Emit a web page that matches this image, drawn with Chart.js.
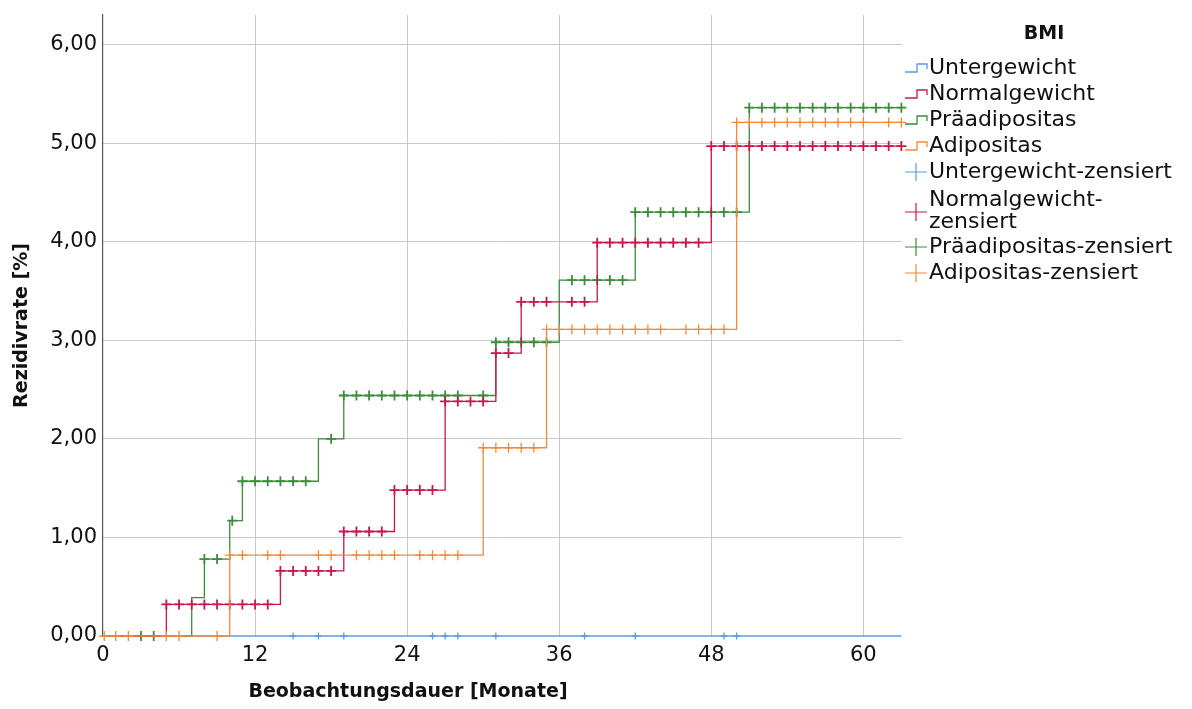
<!DOCTYPE html>
<html>
<head>
<meta charset="utf-8">
<script src="https://cdn.jsdelivr.net/npm/chart.js@4.4.1/dist/chart.umd.min.js"></script>
<style>
  html, body { margin: 0; padding: 0; background: #fff; }
  #wrap { width: 1192px; height: 709px; position: relative; }
</style>
</head>
<body>
<div id="wrap"><canvas id="km"></canvas></div>
<script>
// ---------------- data ----------------
const xTicks = [0, 12, 24, 36, 48, 60];
const yTicks = [0, 1, 2, 3, 4, 5, 6];

// step curves: time (months) where the value changes, and cumulative rate [%]
const unterZeit = [0, 63];
const unterRate = [0, 0];
const normalZeit = [0, 5, 14, 19, 23, 27, 31, 33, 39, 48, 63];
const normalRate = [0, 0.32, 0.66, 1.06, 1.48, 2.38, 2.87, 3.39, 3.99, 4.97, 4.97];
const praeZeit = [0, 7, 8, 10, 11, 17, 19, 31, 36, 42, 51, 63];
const praeRate = [0, 0.39, 0.78, 1.17, 1.57, 2.00, 2.44, 2.98, 3.61, 4.30, 5.36, 5.36];
const adiZeit = [0, 10, 30, 35, 50, 63];
const adiRate = [0, 0.82, 1.91, 3.11, 5.21, 5.21];

// censored cases
const unterZensZeit = [15, 17, 19, 26, 27, 28, 31, 38, 42, 49, 50];
const unterZensRate = [0, 0, 0, 0, 0, 0, 0, 0, 0, 0, 0];
const normalZensZeit = [5, 6, 7, 8, 9, 10, 11, 12, 13,
  14, 15, 16, 17, 18,
  19, 20, 21, 22,
  23, 24, 25, 26,
  27, 28, 29, 30,
  31, 32,
  33, 34, 35, 37, 38,
  39, 40, 41, 42, 43, 44, 45, 46, 47,
  48, 49, 50, 51, 52, 53, 54, 55, 56, 57, 58, 59, 60, 61, 62, 63];
const normalZensRate = [0.32, 0.32, 0.32, 0.32, 0.32, 0.32, 0.32, 0.32, 0.32,
  0.66, 0.66, 0.66, 0.66, 0.66,
  1.06, 1.06, 1.06, 1.06,
  1.48, 1.48, 1.48, 1.48,
  2.38, 2.38, 2.38, 2.38,
  2.87, 2.87,
  3.39, 3.39, 3.39, 3.39, 3.39,
  3.99, 3.99, 3.99, 3.99, 3.99, 3.99, 3.99, 3.99, 3.99,
  4.97, 4.97, 4.97, 4.97, 4.97, 4.97, 4.97, 4.97, 4.97, 4.97, 4.97, 4.97, 4.97, 4.97, 4.97, 4.97];
const praeZensZeit = [3, 4,
  8, 9,
  10.2,
  11, 12, 13, 14, 15, 16,
  18,
  19, 20, 21, 22, 23, 24, 25, 26, 27, 28, 30,
  31, 32, 33, 34, 35,
  37, 38, 39, 40, 41,
  42, 43, 44, 45, 46, 47, 48, 49, 50,
  51, 52, 53, 54, 55, 56, 57, 58, 59, 60, 61, 62, 63];
const praeZensRate = [0, 0,
  0.78, 0.78,
  1.17,
  1.57, 1.57, 1.57, 1.57, 1.57, 1.57,
  2.00,
  2.44, 2.44, 2.44, 2.44, 2.44, 2.44, 2.44, 2.44, 2.44, 2.44, 2.44,
  2.98, 2.98, 2.98, 2.98, 2.98,
  3.61, 3.61, 3.61, 3.61, 3.61,
  4.30, 4.30, 4.30, 4.30, 4.30, 4.30, 4.30, 4.30, 4.30,
  5.36, 5.36, 5.36, 5.36, 5.36, 5.36, 5.36, 5.36, 5.36, 5.36, 5.36, 5.36, 5.36];
const adiZensZeit = [0.1, 1, 2, 5, 6, 9,
  10, 11, 13, 14, 17, 18, 20, 21, 22, 23, 25, 26, 27, 28,
  30, 31, 32, 33, 34,
  35, 36, 37, 38, 39, 40, 41, 42, 43, 44, 46, 47, 48, 49,
  50, 51, 52, 53, 54, 55, 56, 57, 58, 59, 60, 62, 63];
const adiZensRate = [0, 0, 0, 0, 0, 0,
  0.82, 0.82, 0.82, 0.82, 0.82, 0.82, 0.82, 0.82, 0.82, 0.82, 0.82, 0.82, 0.82, 0.82,
  1.91, 1.91, 1.91, 1.91, 1.91,
  3.11, 3.11, 3.11, 3.11, 3.11, 3.11, 3.11, 3.11, 3.11, 3.11, 3.11, 3.11, 3.11, 3.11,
  5.21, 5.21, 5.21, 5.21, 5.21, 5.21, 5.21, 5.21, 5.21, 5.21, 5.21, 5.21, 5.21];

const gruppen = ['Untergewicht', 'Normalgewicht', 'Präadipositas', 'Adipositas'];
const farben = ['#5b9be0', '#c8174f', '#3b8c3b', '#f28a3c'];

// ---------------- build datasets ----------------
function pts(zeit, rate) {
  return zeit.map((t, i) => ({ x: t, y: rate[i] }));
}

const kurven = [
  [unterZeit, unterRate, unterZensZeit, unterZensRate, 3],
  [normalZeit, normalRate, normalZensZeit, normalZensRate, 1],
  [praeZeit, praeRate, praeZensZeit, praeZensRate, 2],
  [adiZeit, adiRate, adiZensZeit, adiZensRate, 0]
];

let dataSets = [];
for (let i = 0; i < kurven.length; i++) {
  const k = kurven[i];
  dataSets.push({
    label: gruppen[i],
    data: pts(k[0], k[1]),
    stepped: true,
    borderColor: farben[i],
    borderWidth: i === 0 ? 1.6 : 1.3,
    pointRadius: 0,
    fill: false,
    clip: false,
    order: k[4] * 2 + 1
  });
  dataSets.push({
    label: gruppen[i] + '-zensiert',
    data: pts(k[2], k[3]),
    showLine: false,
    pointStyle: 'cross',
    pointRadius: i === 0 ? 3.5 : 5,
    borderColor: farben[i],
    borderWidth: i === 1 || i === 2 ? 1.8 : 1.3,
    clip: false,
    order: k[4] * 2
  });
}

const FONT = '"DejaVu Sans", "Noto Sans", sans-serif';

// legend + x title drawn on canvas
const bmiLegend = {
  id: 'bmiLegend',
  afterDraw(chart) {
    const ctx = chart.ctx;
    ctx.save();
    ctx.fillStyle = '#111';
    ctx.textBaseline = 'middle';

    // x axis title
    ctx.font = 'bold 19px ' + FONT;
    ctx.textAlign = 'center';
    ctx.fillText('Beobachtungsdauer [Monate]', 408, 692);

    // legend title
    ctx.fillText('BMI', 1044, 34);

    ctx.font = '22px ' + FONT;
    ctx.textAlign = 'left';
    const x0 = 905, tx = 929;
    const stepRows = [68, 94, 120, 146];
    for (let i = 0; i < 4; i++) {
      const y = stepRows[i];
      ctx.strokeStyle = farben[i];
      ctx.lineWidth = 1.3;
      ctx.beginPath();
      ctx.moveTo(x0, y + 4);
      ctx.lineTo(x0 + 12, y + 4);
      ctx.lineTo(x0 + 12, y - 4);
      ctx.lineTo(x0 + 22, y - 4);
      ctx.lineTo(x0 + 22, y + 1);
      ctx.stroke();
      ctx.fillText(gruppen[i], tx, y);
    }
    const crossRows = [172, 212, 247, 273];
    for (let i = 0; i < 4; i++) {
      const y = crossRows[i];
      ctx.strokeStyle = farben[i];
      ctx.lineWidth = 1.2;
      ctx.beginPath();
      ctx.moveTo(x0, y);
      ctx.lineTo(x0 + 22, y);
      ctx.moveTo(x0 + 11, y - 9);
      ctx.lineTo(x0 + 11, y + 9);
      ctx.stroke();
      if (i === 1) {
        ctx.fillText(gruppen[i] + '-', tx, y - 12);
        ctx.fillText('zensiert', tx, y + 10);
      } else {
        ctx.fillText(gruppen[i] + '-zensiert', tx, y);
      }
    }
    ctx.restore();
  }
};

const config = {
  type: 'line',
  data: { datasets: dataSets },
  options: {
    responsive: true,
    maintainAspectRatio: false,
    animation: false,
    layout: { padding: { top: 15, right: 290, left: 0, bottom: 0 } },
    plugins: { legend: { display: false }, tooltip: { enabled: false } },
    scales: {
      x: {
        type: 'linear',
        min: 0,
        max: 63.05,
        afterBuildTicks: s => { s.ticks = xTicks.map(v => ({ value: v })); },
        afterFit: s => { s.height = 73; s.paddingLeft = 0; s.paddingRight = 0; },
        grid: {
          color: ctx => ctx.tick && ctx.tick.value === 0 ? 'rgba(0,0,0,0)' : '#c9c9c9',
          lineWidth: 1,
          drawTicks: false
        },
        border: { display: false },
        ticks: {
          padding: 7,
          color: '#111',
          font: { family: FONT, size: 21 },
          maxRotation: 0
        }
      },
      y: {
        type: 'linear',
        min: 0,
        max: 6.3,
        afterBuildTicks: s => { s.ticks = yTicks.map(v => ({ value: v })); },
        afterFit: s => { s.width = 103; s.paddingTop = 0; s.paddingBottom = 0; },
        grid: {
          color: ctx => ctx.tick && ctx.tick.value === 0 ? 'rgba(0,0,0,0)' : '#c9c9c9',
          lineWidth: 1,
          drawTicks: false
        },
        border: { display: true, color: '#555', width: 1.2 },
        ticks: {
          padding: 6,
          color: '#111',
          font: { family: FONT, size: 21 },
          callback: v => v.toFixed(2).replace('.', ',')
        },
        title: {
          display: true,
          text: 'Rezidivrate [%]',
          color: '#111',
          font: { family: FONT, size: 19, weight: 'bold' },
          padding: { top: 11, bottom: 0 }
        }
      }
    }
  },
  plugins: [bmiLegend]
};

const myChart = new Chart(document.getElementById('km'), config);
</script>
</body>
</html>
